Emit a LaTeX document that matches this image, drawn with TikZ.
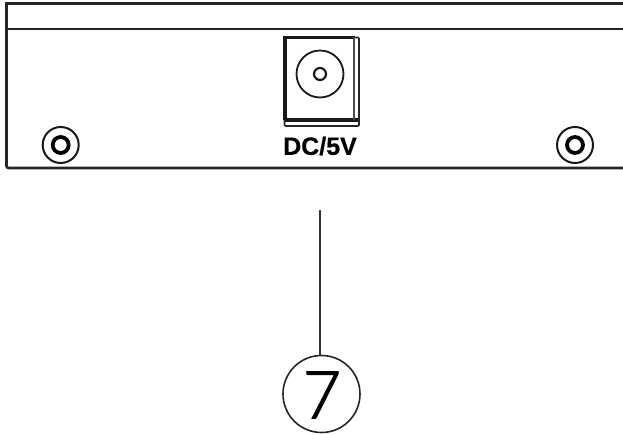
\documentclass[tikz,border=0pt]{standalone}
\usepackage{fontspec}
\setmainfont{Liberation Sans}
\newfontfamily\numfont[FakeBold=1.8]{Lato Light}
\newfontfamily\labfont[FakeBold=0.6]{Liberation Sans Bold}
\tikzset{
  x=1pt,y=1pt,
  panel/.style={line width=2.6pt,color=black!85},
  thin ring/.style={draw=black!90,line width=2pt,circle,inner sep=0pt,fill=none},
  thick ring/.style={draw=black,line width=3.8pt,circle,inner sep=0pt,fill=none},
  lead/.style={line width=1.4pt,color=black!80},
  jackbox/.style={draw=black!85,line width=1.6pt,rounded corners=1pt}
}
\begin{document}
\begin{tikzpicture}
\useasboundingbox (0,0) rectangle (623,435);
% panel
\draw[panel] (623,431.5) -- (6.5,431.5) -- (6.5,271) [rounded corners=2pt] -- (6.5,267) -- (623,267);
\draw[panel] (6.5,405.8) -- (623,405.8);
% screws
\node[thin ring,minimum size=36pt] (sl) at (60.7,290) {};
\node[thick ring,minimum size=16pt] (slc) at (60.7,290) {};
\node[thin ring,minimum size=36pt] (sr) at (575,290) {};
\node[thick ring,minimum size=16pt] (src) at (575,290) {};
% jack
\draw[jackbox] (284.5,309) rectangle (359,397.5);
\draw[line width=3.2pt,color=black!90] (285,315) -- (285,397.5) -- (355,397.5) (285,315) -- (358,315);
\draw[line width=1.4pt,color=black!70] (354,315) -- (354,397.5);
\node[thin ring,minimum size=47pt,line width=1.8pt] (jo) at (320,361) {};
\node[thin ring,minimum size=12pt,line width=2.2pt] (ji) at (320,361) {};
\node[font=\labfont\fontsize{25}{25}\selectfont] (lab) at (320,289) {DC/5V};
% callout
\node[circle,draw=black!85,line width=1.6pt,minimum size=77pt,inner sep=0pt] (n7) at (321.5,41) {};
\node[font=\numfont\fontsize{66}{66}\selectfont] (d7) at (322,40) {7};
\coordinate (leadtop) at (320,225);
\draw[lead] (leadtop) -- (leadtop |- n7.north);
\end{tikzpicture}
\end{document}
